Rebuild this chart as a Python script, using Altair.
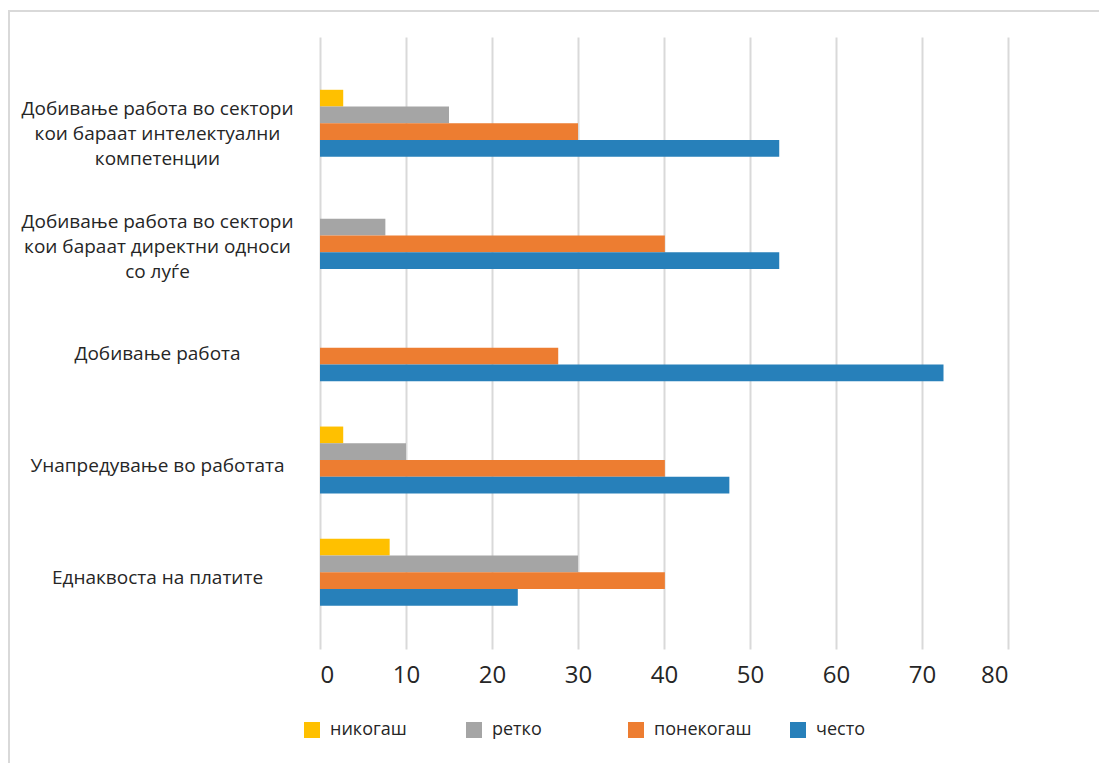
import altair as alt
import pandas as pd

categories = [
    "Добивање работа во сектори\nкои бараат интелектуални\nкомпетенции",
    "Добивање работа во сектори\nкои бараат директни односи\nсо луѓе",
    "Добивање работа",
    "Унапредување во работата",
    "Еднаквоста на платите",
]
series = ["никогаш", "ретко", "понекогаш", "често"]
nikogash = [2.7, 0.0, 0.0, 2.7, 8.1]
retko = [15.0, 7.6, 0.0, 10.0, 30.0]
ponekogash = [30.0, 40.1, 27.7, 40.1, 40.1]
chesto = [53.4, 53.4, 72.5, 47.6, 23.0]
colors = ["#FFC000", "#A5A5A5", "#ED7D31", "#2780BA"]
x_ticks = [0, 10, 20, 30, 40, 50, 60, 70, 80]

rows = []
for s, vals in zip(series, [nikogash, retko, ponekogash, chesto]):
    for c, v in zip(categories, vals):
        rows.append({"cat": c, "series": s, "value": v})
df = pd.DataFrame(rows)

FONT = "Open Sans"

bars = alt.Chart(df).mark_bar().encode(
    y=alt.Y(
        "cat:N",
        sort=categories,
        scale=alt.Scale(paddingInner=0.403, paddingOuter=0.4275, align=0.55),
        axis=alt.Axis(
            title=None,
            ticks=False,
            tickSize=0,
            domain=False,
            grid=False,
            labelAlign="center",
            labelBaseline="middle",
            labelPadding=163,
            labelOffset=alt.condition(
                "indexof(datum.value, '\\n') >= 0", alt.value(-14), alt.value(6)
            ),
            labelFont=FONT,
            labelFontSize=19,
            labelColor="#262626",
            labelLineHeight=25,
            labelLimit=400,
            labelExpr="split(datum.label, '\\n')",
        ),
    ),
    yOffset=alt.YOffset("series:N", sort=series, scale=alt.Scale(paddingInner=0, paddingOuter=0)),
    x=alt.X(
        "value:Q",
        scale=alt.Scale(domain=[0, 80], nice=False),
        axis=alt.Axis(
            title=None,
            values=x_ticks,
            ticks=False,
            tickSize=0,
            domain=False,
            grid=True,
            gridColor="#d9d9d9",
            gridWidth=2,
            labelFont=FONT,
            labelFontSize=24,
            labelColor="#262626",
            labelPadding=14,
        ),
    ),
    color=alt.Color(
        "series:N",
        sort=series,
        scale=alt.Scale(domain=series, range=colors),
        legend=alt.Legend(
            title=None,
            orient="none",
            legendX=-17,
            legendY=684,
            direction="horizontal",
            columns=4,
            gridAlign="all",
            columnPadding=37,
            symbolType="square",
            symbolSize=256,
            symbolStrokeWidth=0,
            labelFont=FONT,
            labelFontSize=18,
            labelColor="#262626",
            labelOffset=9,
        ),
    ),
)

border = alt.Chart(alt.Data(values=[{}])).mark_rect(
    filled=False, stroke="#d9d9d9", strokeWidth=2
).encode(
    x=alt.value(-311), x2=alt.value(820), y=alt.value(-26), y2=alt.value(760)
)

chart = alt.layer(border, bars).properties(
    width=688,
    height=612,
    autosize=alt.AutoSizeParams(type="none"),
    padding={"left": 320, "top": 37, "right": 91, "bottom": 114},
    background="white",
).configure_view(stroke=None)

chart.save("out.html", embed_options={"renderer": "svg", "actions": False})
